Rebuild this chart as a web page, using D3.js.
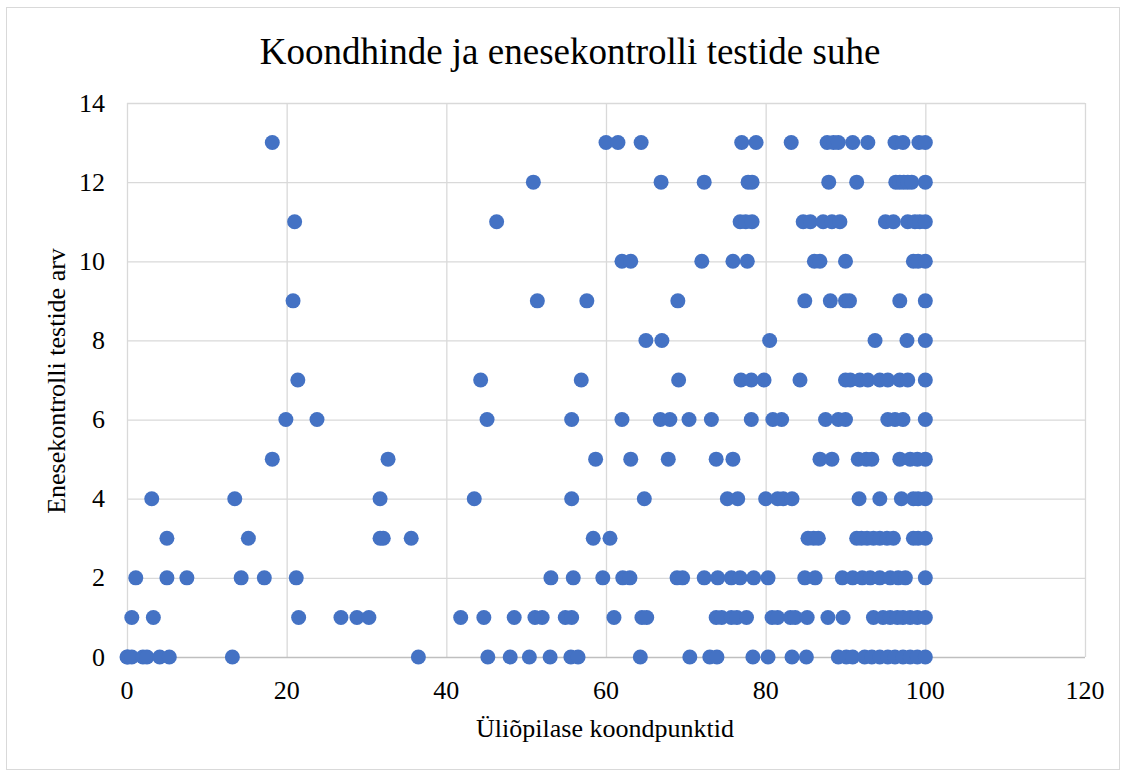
<!DOCTYPE html>
<html>
<head>
<meta charset="utf-8">
<script src="https://cdn.jsdelivr.net/npm/d3@7"></script>
<style>
  body { margin: 0; background: #fff; }
  text { font-family: "Liberation Serif", "Times New Roman", serif; fill: #000; }
</style>
</head>
<body>
<svg width="1122" height="770"></svg>
<script>
// koondpunktid per number of self-tests (one array per y value)
const row0 = [0, 0.1, 0.6, 2.0, 2.5, 4.1, 5.3, 13.2, 36.5, 45.2, 48.0, 50.4, 53.0, 55.6, 56.5, 64.3, 70.5, 73.0, 73.9, 78.4, 80.3, 83.3, 85.1, 89.1, 90.1, 90.9, 92.4, 93.3, 94.3, 95.3, 96.2, 97.2, 98.1, 99.0, 100];
const row1 = [0.6, 3.3, 21.5, 26.8, 28.8, 30.3, 41.8, 44.7, 48.5, 51.1, 52.0, 54.9, 55.7, 61.0, 64.5, 65.1, 73.8, 74.5, 75.7, 76.4, 77.6, 80.8, 81.5, 83.1, 83.7, 85.2, 87.8, 89.7, 93.5, 94.7, 95.6, 96.5, 97.2, 98.1, 99.0, 100];
const row2 = [1.1, 5.0, 7.5, 14.3, 17.2, 21.2, 53.1, 55.9, 59.6, 62.1, 63.0, 68.9, 69.6, 72.3, 74.0, 75.7, 76.8, 78.5, 80.3, 84.9, 86.2, 89.6, 90.9, 92.1, 93.1, 94.3, 95.6, 96.6, 97.5, 100];
const row3 = [5.0, 15.2, 31.7, 32.1, 35.6, 58.4, 60.5, 85.3, 86.0, 86.6, 91.4, 92.0, 92.7, 93.5, 94.3, 95.2, 96.0, 98.5, 99.1, 100];
const row4 = [3.1, 13.5, 31.7, 43.5, 55.7, 64.8, 75.2, 76.5, 80.0, 81.5, 82.2, 83.3, 91.7, 94.3, 97.0, 98.5, 99.1, 100];
const row5 = [18.2, 32.7, 58.7, 63.1, 67.8, 73.8, 75.9, 86.8, 88.3, 91.6, 92.6, 93.3, 96.8, 98.1, 99.0, 100];
const row6 = [19.9, 23.8, 45.1, 55.7, 62.0, 66.8, 68.0, 70.4, 73.2, 78.2, 80.9, 82.0, 87.5, 89.1, 90.0, 95.3, 96.2, 97.2, 100];
const row7 = [21.4, 44.3, 56.9, 69.1, 76.9, 78.2, 79.8, 84.3, 90.0, 90.6, 91.8, 92.8, 94.3, 95.3, 96.8, 97.8, 100];
const row8 = [65.0, 67.0, 80.5, 93.7, 97.7, 100];
const row9 = [20.8, 51.4, 57.6, 69.0, 84.9, 88.1, 90.0, 90.5, 96.8, 100];
const row10 = [62.0, 63.1, 72.0, 75.9, 77.7, 86.1, 86.8, 90.0, 98.5, 99.1, 100];
const row11 = [21.0, 46.3, 76.8, 77.5, 78.3, 84.7, 85.6, 87.2, 88.3, 89.3, 95.0, 96.0, 97.8, 98.7, 99.3, 100];
const row12 = [50.9, 66.9, 72.3, 77.8, 78.3, 87.9, 91.4, 96.3, 96.8, 97.3, 97.8, 98.3, 100];
const row13 = [18.2, 60.0, 61.5, 64.4, 77.0, 78.8, 83.2, 87.7, 88.5, 89.1, 90.9, 92.8, 96.2, 97.2, 99.2, 100];

const rows = [row0, row1, row2, row3, row4, row5, row6, row7, row8, row9, row10, row11, row12, row13];
const xTicks = [0, 20, 40, 60, 80, 100, 120];
const yTicks = [0, 2, 4, 6, 8, 10, 12, 14];

const title = "Koondhinde ja enesekontrolli testide suhe";
const xTitle = "Üliõpilase koondpunktid";
const yTitle = "Enesekontrolli testide arv";

const svg = d3.select("svg");

const plotL = 127, plotR = 1085, plotT = 103, plotB = 657;

const x = d3.scaleLinear().domain([0, 120]).range([plotL, plotR]);
const y = d3.scaleLinear().domain([0, 14]).range([plotB, plotT]);

// outer chart border
svg.append("rect")
  .attr("x", 6.5).attr("y", 7.5)
  .attr("width", 1113).attr("height", 762)
  .attr("fill", "none").attr("stroke", "#d9d9d9");

// gridlines
svg.append("g").selectAll("line")
  .data(yTicks.filter(d => d > 0))
  .enter().append("line")
  .attr("x1", plotL).attr("x2", plotR)
  .attr("y1", d => y(d) + 0.5).attr("y2", d => y(d) + 0.5)
  .attr("stroke", "#d9d9d9").attr("stroke-width", 1.3);

svg.append("g").selectAll("line")
  .data(xTicks)
  .enter().append("line")
  .attr("x1", d => x(d) + 0.5).attr("x2", d => x(d) + 0.5)
  .attr("y1", plotT).attr("y2", plotB)
  .attr("stroke", "#d9d9d9").attr("stroke-width", 1.3);

// x axis line
svg.append("line")
  .attr("x1", plotL).attr("x2", plotR)
  .attr("y1", plotB + 0.5).attr("y2", plotB + 0.5)
  .attr("stroke", "#bfbfbf").attr("stroke-width", 1.3);

// tick labels
svg.append("g").selectAll("text")
  .data(yTicks)
  .enter().append("text")
  .attr("x", 105).attr("y", d => y(d))
  .attr("dy", "0.33em")
  .attr("text-anchor", "end")
  .attr("font-size", 26)
  .text(d => d);

svg.append("g").selectAll("text")
  .data(xTicks)
  .enter().append("text")
  .attr("x", d => x(d)).attr("y", 699)
  .attr("text-anchor", "middle")
  .attr("font-size", 26)
  .text(d => d);

// titles
svg.append("text")
  .attr("x", 570).attr("y", 64)
  .attr("text-anchor", "middle")
  .attr("font-size", 37)
  .text(title);

svg.append("text")
  .attr("x", 605).attr("y", 737)
  .attr("text-anchor", "middle")
  .attr("font-size", 26)
  .text(xTitle);

svg.append("text")
  .attr("transform", "translate(65,381) rotate(-90)")
  .attr("text-anchor", "middle")
  .attr("font-size", 26)
  .text(yTitle);

// points
const pts = [];
rows.forEach((r, k) => r.forEach(v => pts.push({ x: v, y: k })));

svg.append("g").selectAll("circle")
  .data(pts)
  .enter().append("circle")
  .attr("cx", d => x(d.x))
  .attr("cy", d => y(d.y))
  .attr("r", 7.5)
  .attr("fill", "#4472C4");
</script>
</body>
</html>
